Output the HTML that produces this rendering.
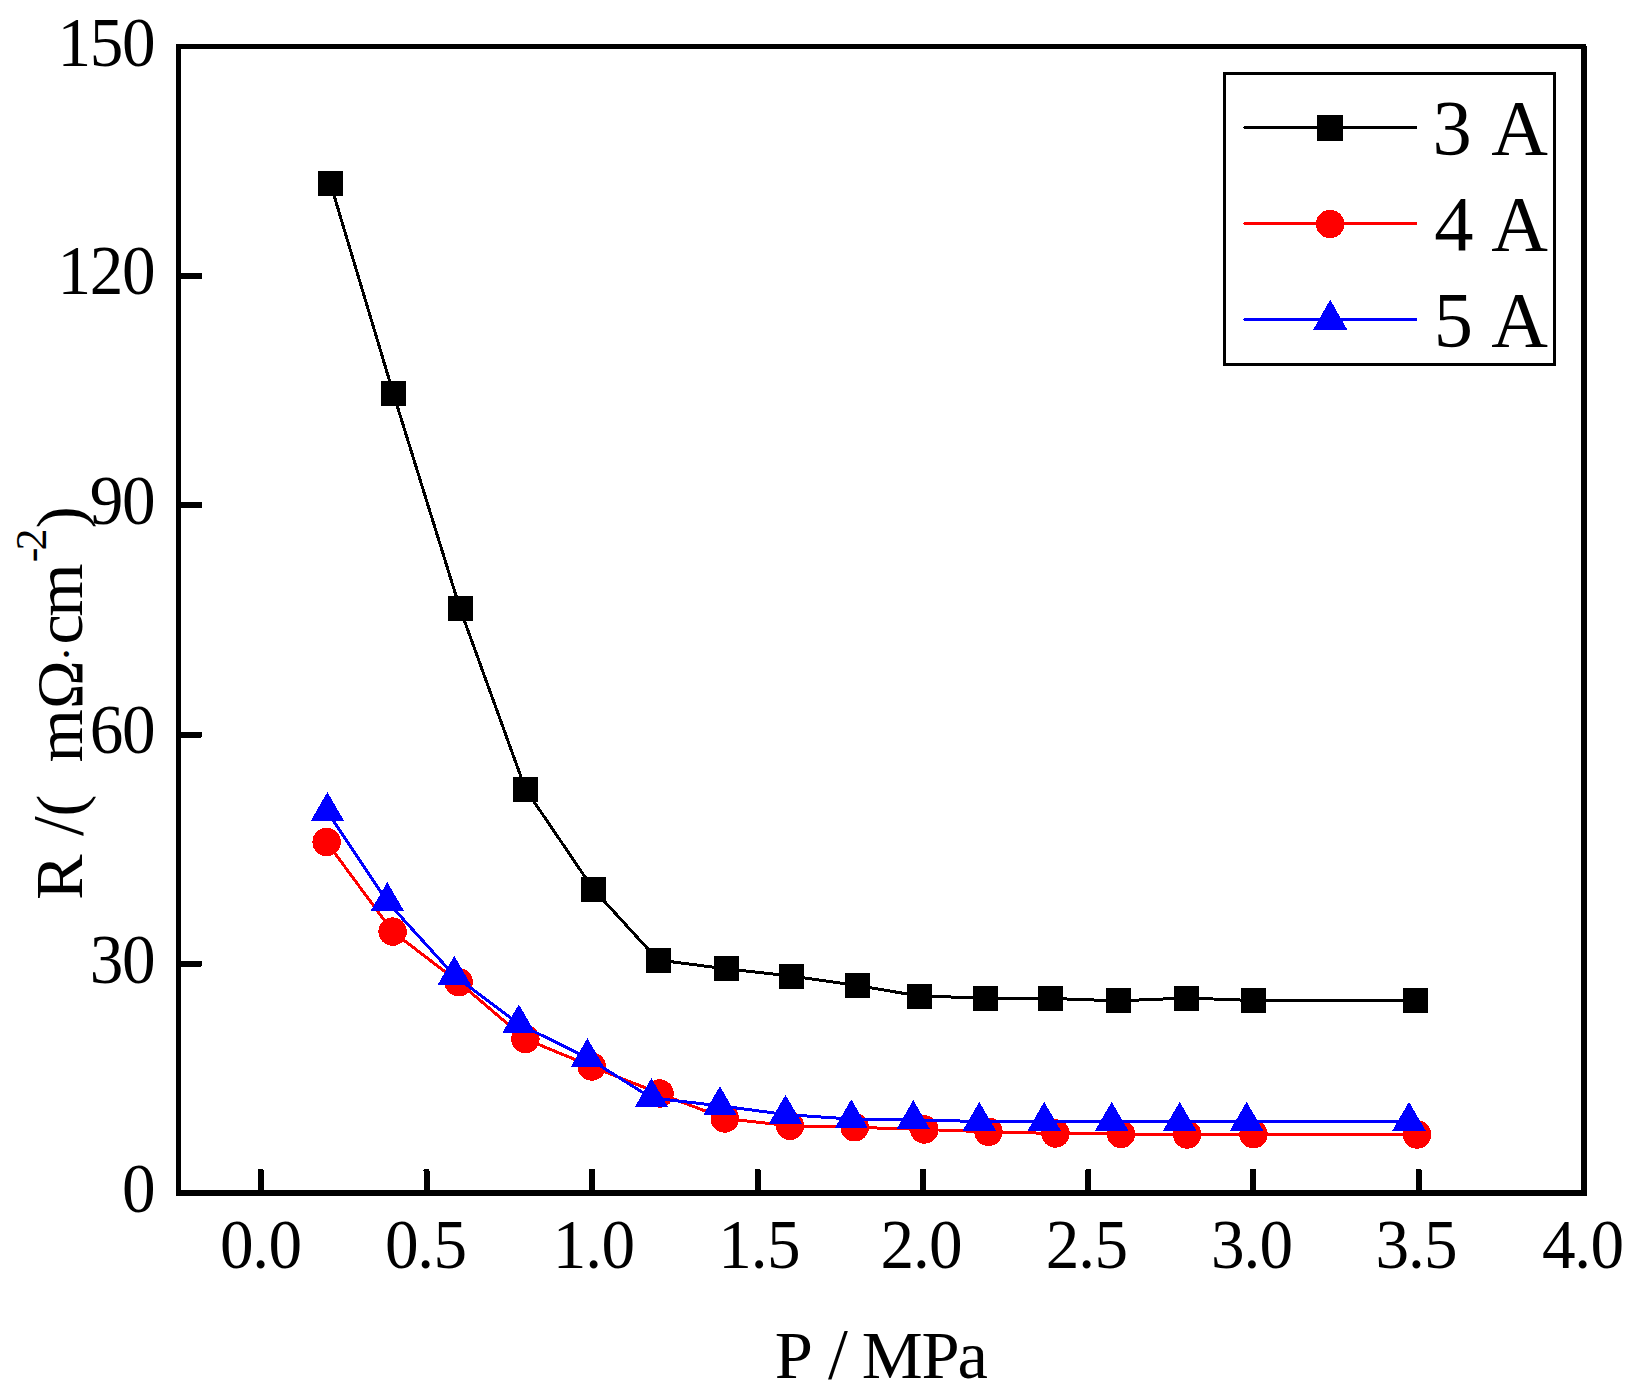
<!DOCTYPE html>
<html lang="en"><head><meta charset="utf-8"><title>R vs P</title>
<style>html,body{margin:0;padding:0;background:#fff}body{width:1636px;height:1397px;overflow:hidden}svg{display:block}text{font-family:"Liberation Serif","Noto Serif CJK SC",serif;fill:#000}.t{font-size:70px}.l{font-size:78.5px}.y{font-size:68.5px}.s{font-size:71.5px}.b{font-size:66px}.o{font-size:65.5px}.d{font-size:45px}.u{font-size:44px}</style></head><body>
<svg width="1636" height="1397" viewBox="0 0 1636 1397" shape-rendering="crispEdges">
<rect x="0" y="0" width="1636" height="1397" fill="#fff"/>
<polyline fill="none" stroke="#000" stroke-width="3" stroke-linejoin="round" points="330.4,183.3 393.4,393.6 460.0,608.5 525.4,789.0 593.4,889.3 658.0,960.0 726.7,968.9 791.3,976.0 857.5,985.5 919.5,996.1 985.9,998.0 1050.5,998.4 1118.5,1000.9 1186.5,998.0 1253.4,1000.5 1415.5,1000.5"/>
<g fill="#000"><rect x="318" y="171" width="25" height="25"/><rect x="381" y="381" width="25" height="25"/><rect x="448" y="596" width="25" height="25"/><rect x="513" y="777" width="25" height="25"/><rect x="581" y="877" width="25" height="25"/><rect x="646" y="948" width="25" height="25"/><rect x="714" y="956" width="25" height="25"/><rect x="779" y="964" width="25" height="25"/><rect x="845" y="973" width="25" height="25"/><rect x="907" y="984" width="25" height="25"/><rect x="973" y="986" width="25" height="25"/><rect x="1038" y="986" width="25" height="25"/><rect x="1106" y="988" width="25" height="25"/><rect x="1174" y="986" width="25" height="25"/><rect x="1241" y="988" width="25" height="25"/><rect x="1403" y="988" width="25" height="25"/></g>
<polyline fill="none" stroke="#f00" stroke-width="3" stroke-linejoin="round" points="326.6,842.0 392.6,931.6 458.7,982.2 525.4,1039.0 591.7,1066.5 659.6,1093.5 724.8,1118.5 790.0,1125.8 854.7,1127.3 924.3,1129.5 988.5,1131.8 1055.5,1133.5 1121.0,1134.0 1187.2,1134.5 1253.5,1134.2 1417.0,1134.5"/>
<g fill="#f00"><circle cx="326.6" cy="842.0" r="14.2"/><circle cx="392.6" cy="931.6" r="14.2"/><circle cx="458.7" cy="982.2" r="14.2"/><circle cx="525.4" cy="1039.0" r="14.2"/><circle cx="591.7" cy="1066.5" r="14.2"/><circle cx="659.6" cy="1093.5" r="14.2"/><circle cx="724.8" cy="1118.5" r="14.2"/><circle cx="790.0" cy="1125.8" r="14.2"/><circle cx="854.7" cy="1127.3" r="14.2"/><circle cx="924.3" cy="1129.5" r="14.2"/><circle cx="988.5" cy="1131.8" r="14.2"/><circle cx="1055.5" cy="1133.5" r="14.2"/><circle cx="1121.0" cy="1134.0" r="14.2"/><circle cx="1187.2" cy="1134.5" r="14.2"/><circle cx="1253.5" cy="1134.2" r="14.2"/><circle cx="1417.0" cy="1134.5" r="14.2"/></g>
<polyline fill="none" stroke="#00f" stroke-width="3" stroke-linejoin="round" points="327.4,811.7 387.3,901.7 454.3,975.6 518.8,1024.0 587.4,1057.8 651.4,1097.9 719.9,1105.8 785.5,1114.5 851.3,1119.1 913.3,1119.8 979.3,1121.5 1044.2,1121.5 1111.7,1121.5 1179.7,1121.5 1246.6,1121.5 1409.0,1121.5"/>
<g fill="#00f"><polygon points="327.4,792.0 310.8,820.8 344.0,820.8"/><polygon points="387.3,882.0 370.7,910.8 403.9,910.8"/><polygon points="454.3,955.9 437.7,984.7 470.9,984.7"/><polygon points="518.8,1004.3 502.2,1033.1 535.4,1033.1"/><polygon points="587.4,1038.1 570.8,1066.9 604.0,1066.9"/><polygon points="651.4,1078.2 634.8,1107.0 668.0,1107.0"/><polygon points="719.9,1086.1 703.3,1114.9 736.5,1114.9"/><polygon points="785.5,1094.8 768.9,1123.6 802.1,1123.6"/><polygon points="851.3,1099.4 834.7,1128.2 867.9,1128.2"/><polygon points="913.3,1100.1 896.7,1128.9 929.9,1128.9"/><polygon points="979.3,1101.8 962.7,1130.5 995.9,1130.5"/><polygon points="1044.2,1101.8 1027.7,1130.5 1060.8,1130.5"/><polygon points="1111.7,1101.8 1095.1,1130.5 1128.3,1130.5"/><polygon points="1179.7,1101.8 1163.1,1130.5 1196.3,1130.5"/><polygon points="1246.6,1101.8 1230.0,1130.5 1263.2,1130.5"/><polygon points="1409.0,1101.8 1392.4,1130.5 1425.6,1130.5"/></g>
<g fill="#000">
<rect x="176" y="44" width="5" height="1152"/>
<rect x="176" y="44" width="1410" height="5"/>
<rect x="1581" y="46" width="6" height="1150"/>
<rect x="176" y="1190" width="1411" height="5.8"/>
<path d="M181 273.0H200.5a1.5 1.5 0 0 1 1.5 1.5v3a1.5 1.5 0 0 1-1.5 1.5H181z"/>
<path d="M181 502.0H200.5a1.5 1.5 0 0 1 1.5 1.5v3a1.5 1.5 0 0 1-1.5 1.5H181z"/>
<path d="M181 731.5H200.5a1.5 1.5 0 0 1 1.5 1.5v3a1.5 1.5 0 0 1-1.5 1.5H181z"/>
<path d="M181 960.5H200.5a1.5 1.5 0 0 1 1.5 1.5v3a1.5 1.5 0 0 1-1.5 1.5H181z"/>
<path d="M257.75 1191V1170.5a1.5 1.5 0 0 1 1.5-1.5h3a1.5 1.5 0 0 1 1.5 1.5V1191z"/>
<path d="M423.50 1191V1170.5a1.5 1.5 0 0 1 1.5-1.5h3a1.5 1.5 0 0 1 1.5 1.5V1191z"/>
<path d="M589.00 1191V1170.5a1.5 1.5 0 0 1 1.5-1.5h3a1.5 1.5 0 0 1 1.5 1.5V1191z"/>
<path d="M754.60 1191V1170.5a1.5 1.5 0 0 1 1.5-1.5h3a1.5 1.5 0 0 1 1.5 1.5V1191z"/>
<path d="M920.00 1191V1170.5a1.5 1.5 0 0 1 1.5-1.5h3a1.5 1.5 0 0 1 1.5 1.5V1191z"/>
<path d="M1085.20 1191V1170.5a1.5 1.5 0 0 1 1.5-1.5h3a1.5 1.5 0 0 1 1.5 1.5V1191z"/>
<path d="M1250.10 1191V1170.5a1.5 1.5 0 0 1 1.5-1.5h3a1.5 1.5 0 0 1 1.5 1.5V1191z"/>
<path d="M1415.60 1191V1170.5a1.5 1.5 0 0 1 1.5-1.5h3a1.5 1.5 0 0 1 1.5 1.5V1191z"/>
</g>
<rect x="1224.5" y="73.5" width="330" height="291" fill="#fff" stroke="#000" stroke-width="3"/>
<line stroke-linecap="round" x1="1244.9" x2="1415.6" y1="127.5" y2="127.5" stroke="#000" stroke-width="3"/>
<line stroke-linecap="round" x1="1244.9" x2="1415.6" y1="223.5" y2="223.5" stroke="#f00" stroke-width="3"/>
<line stroke-linecap="round" x1="1244.9" x2="1415.6" y1="319.5" y2="319.5" stroke="#00f" stroke-width="3"/>
<rect x="1317" y="115" width="26" height="26" fill="#000"/>
<circle cx="1330.1" cy="224" r="14.2" fill="#f00"/>
<polygon points="1330.2,299.6 1313.1,329.8 1347.3,329.8" fill="#00f"/>
<text class="t" transform="scale(0.96,1)" x="59.8 93.5 127.2" y="65.6">150</text>
<text class="t" transform="scale(0.96,1)" x="59.8 93.5 127.2" y="294.5">120</text>
<text class="t" transform="scale(0.96,1)" x="93.5 127.2" y="523.9">90</text>
<text class="t" transform="scale(0.96,1)" x="93.5 127.2" y="753.3">60</text>
<text class="t" transform="scale(0.96,1)" x="93.5 127.2" y="982.6">30</text>
<text class="t" transform="scale(0.96,1)" x="127.2" y="1212.2">0</text>
<text class="t" transform="scale(0.96,1)" x="229.1 262.8 279.7" y="1268">0.0</text>
<text class="t" transform="scale(0.96,1)" x="401 434.7 451.6" y="1268">0.5</text>
<text class="t" transform="scale(0.96,1)" x="575.9 609.6 626.5" y="1268">1.0</text>
<text class="t" transform="scale(0.96,1)" x="748.3 782 798.9" y="1268">1.5</text>
<text class="t" transform="scale(0.96,1)" x="917.2 951 967.8" y="1268">2.0</text>
<text class="t" transform="scale(0.96,1)" x="1089.4 1123.1 1140" y="1268">2.5</text>
<text class="t" transform="scale(0.96,1)" x="1261.4 1295.2 1312" y="1268">3.0</text>
<text class="t" transform="scale(0.96,1)" x="1432.8 1466.6 1483.4" y="1268">3.5</text>
<text class="t" transform="scale(0.96,1)" x="1606.2 1639.9 1656.8" y="1268">4.0</text>
<text class="l" x="1432.6 1470.6 1491.2" y="153.8">3 A</text>
<text class="l" x="1434.2 1472.2 1491.2" y="249.9">4 A</text>
<text class="l" x="1433.7 1471.7 1491.2" y="345.8">5 A</text>
<text class="y" x="774.7 812 828 848 861.8 921.4 957.6" y="1378">P <tspan class="s">/</tspan> MPa</text>
<g transform="translate(82,898) rotate(-90)">
<text class="y" x="-2 42 62 81.496 104 135.6 188.9 236.6 253.4 281.2 335.8 347.6 369.888" y="0">R <tspan class="s">/</tspan><tspan class="b">(</tspan> m<tspan class="o">Ω</tspan><tspan class="d" y="-1.1">·</tspan><tspan y="0">cm</tspan><tspan class="u" y="-36.3">-2</tspan><tspan class="b" y="0">)</tspan></text>
</g>
</svg></body></html>
